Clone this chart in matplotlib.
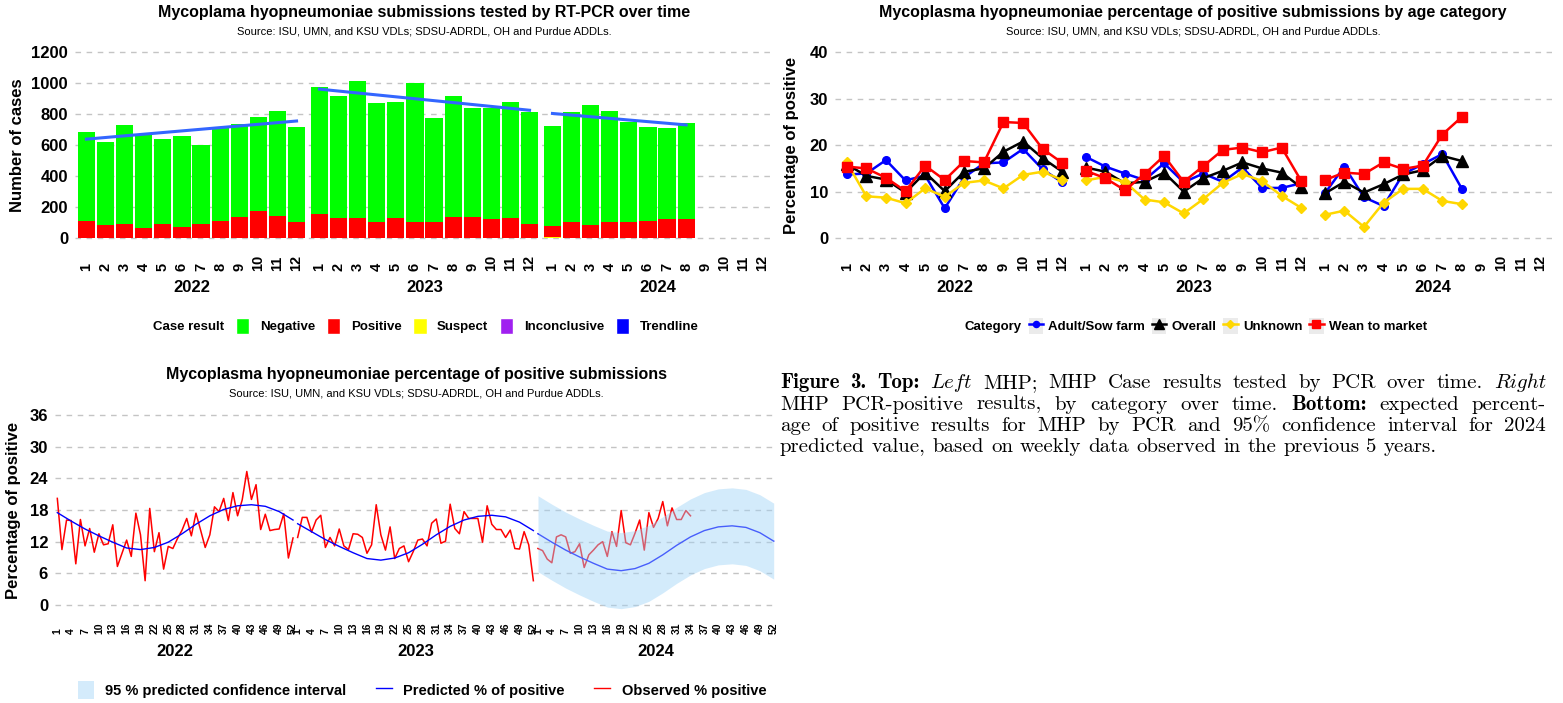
import matplotlib
matplotlib.use("Agg")
import matplotlib.pyplot as plt
import numpy as np
from matplotlib.patches import Patch
from matplotlib.lines import Line2D
from matplotlib.legend_handler import HandlerTuple

plt.rcParams['font.family'] = ['Liberation Sans', 'DejaVu Sans']

years = ['2022', '2023', '2024']

# top left: monthly MHP submissions by case result
neg_2022 = [575, 534, 641, 603, 547, 588, 508, 601, 599, 612, 679, 610]
pos_2022 = [106, 84, 90, 67, 91, 71, 91, 108, 138, 169, 140, 104]
sus_2022 = [0, 0, 0, 0, 0, 0, 0, 0, 0, 0, 0, 0]
inc_2022 = [2, 0, 0, 0, 2, 0, 2, 0, 0, 3, 2, 2]
neg_2023 = [817, 785, 886, 765, 750, 899, 670, 782, 700, 720, 750, 722]
pos_2023 = [154, 131, 127, 106, 127, 101, 106, 138, 136, 123, 127, 93]
sus_2023 = [0, 0, 0, 0, 0, 0, 0, 0, 0, 0, 0, 0]
inc_2023 = [3, 0, 2, 0, 0, 0, 0, 0, 2, 0, 2, 0]
neg_2024 = [648, 706, 774, 720, 644, 610, 586, 621]
pos_2024 = [70, 106, 86, 101, 106, 108, 123, 123]
sus_2024 = [6, 0, 0, 0, 0, 0, 0, 0]
inc_2024 = [2, 0, 0, 2, 0, 0, 0, 0]

# top right: % positive by age category
adult_2022 = [13.7, 13.9, 16.8, 12.4, 13.5, 6.4, 13.1, 16.1, 16.3, 19.2, 14.8, 12.0]
overall_2022 = [15.9, 13.4, 12.6, 9.8, 14.1, 10.1, 14.3, 15.0, 18.6, 20.8, 17.2, 14.3]
unknown_2022 = [16.3, 9.0, 8.7, 7.5, 10.7, 8.9, 11.9, 12.4, 10.7, 13.6, 14.3, 12.5]
wean_2022 = [15.4, 15.0, 13.0, 10.1, 15.6, 12.5, 16.6, 16.3, 25.0, 24.8, 19.2, 16.2]
adult_2023 = [17.5, 15.4, 13.9, 12.5, 16.1, 12.0, 13.9, 12.1, 15.2, 10.8, 10.8, 11.8]
overall_2023 = [15.2, 14.3, 11.8, 12.1, 14.1, 10.0, 12.9, 14.5, 16.3, 15.0, 14.1, 10.9]
unknown_2023 = [12.4, 13.2, 12.1, 8.3, 7.7, 5.3, 8.4, 11.9, 13.8, 12.3, 9.1, 6.5]
wean_2023 = [14.5, 12.9, 10.3, 13.8, 17.7, 12.1, 15.5, 19.0, 19.5, 18.5, 19.5, 12.3]
adult_2024 = [9.6, 15.4, 8.8, 6.9, 13.8, 15.9, 18.1, 10.6]
overall_2024 = [9.6, 12.1, 9.8, 11.6, 13.7, 14.6, 17.7, 16.6]
unknown_2024 = [5.0, 5.9, 2.4, 7.6, 10.6, 10.6, 8.0, 7.3]
wean_2024 = [12.5, 14.1, 13.8, 16.3, 14.9, 15.6, 22.3, 26.1]

# bottom: weekly observed % positive
obs_2022 = [20.2, 10.5, 16.1, 16.0, 7.8, 16.2, 11.2, 14.5, 10.0, 13.5, 11.4, 11.6, 15.2,
            7.3, 9.8, 12.3, 9.2, 17.4, 13.3, 4.6, 18.3, 10.1, 13.7, 6.8, 11.1, 10.7,
            12.6, 14.2, 16.4, 13.1, 17.4, 14.2, 10.9, 13.3, 18.6, 17.7, 20.2, 16.0, 21.3,
            16.9, 19.9, 25.3, 20.0, 22.8, 14.3, 17.2, 14.1, 14.3, 14.4, 17.3, 8.9, 12.7]
obs_2023 = [12.8, 16.6, 16.6, 13.8, 16.1, 17.0, 10.9, 12.8, 11.2, 14.4, 11.2, 10.5, 13.5,
            13.4, 12.8, 9.8, 11.4, 19.0, 13.3, 10.4, 14.8, 8.8, 10.7, 11.2, 8.2, 10.1,
            12.3, 12.5, 11.2, 15.5, 16.3, 11.7, 12.1, 19.1, 14.5, 13.5, 17.7, 16.4, 16.4,
            16.4, 11.9, 18.8, 15.3, 14.3, 14.3, 12.8, 14.2, 10.7, 10.6, 13.9, 11.4, 4.6]
obs_2024 = [10.7, 10.3, 8.7, 8.0, 12.9, 13.3, 12.9, 9.8, 10.1, 11.6, 7.1, 9.5, 10.4,
            11.4, 12.0, 9.2, 13.9, 11.1, 17.9, 11.8, 11.4, 13.6, 16.1, 10.4, 17.5, 14.7,
            16.4, 19.6, 15.0, 18.4, 16.2, 16.2, 17.9, 16.9]

# predicted % positive and 2024 95% interval, read every 3 weeks
pred_weeks = [1, 4, 7, 10, 13, 16, 19, 22, 25, 28, 31, 34, 37, 40, 43, 46, 49, 52]
pred_2022 = [17.5, 15.9, 14.4, 13.1, 11.9, 10.8, 10.5, 10.9, 11.9, 13.5, 15.3, 16.9, 18.1,
             18.8, 19.0, 18.7, 17.7, 16.1]
pred_2023 = [15.4, 13.9, 12.4, 11.1, 9.9, 8.8, 8.5, 8.9, 9.9, 11.5, 13.3, 14.9, 16.1,
             16.8, 17.0, 16.7, 15.7, 14.1]
pred_2024 = [13.5, 11.9, 10.4, 9.1, 7.9, 6.8, 6.5, 6.9, 7.9, 9.5, 11.3, 12.9, 14.1,
             14.8, 15.0, 14.7, 13.7, 12.1]
upper_2024 = [20.7, 19.1, 17.6, 16.3, 15.1, 14.0, 13.7, 14.1, 15.1, 16.7, 18.5, 20.1, 21.3,
              22.0, 22.2, 21.9, 20.9, 19.3]
lower_2024 = [6.3, 4.7, 3.2, 1.9, 0.7, -0.4, -0.7, -0.3, 0.7, 2.3, 4.1, 5.7, 6.9,
              7.6, 7.8, 7.5, 6.5, 4.9]
week_ticks = [1, 4, 7, 10, 13, 16, 19, 22, 25, 28, 31, 34, 37, 40, 43, 46, 49, 52]

source = "Source: ISU, UMN, and KSU VDLs; SDSU-ADRDL, OH and Purdue ADDLs."

# caption words: (text, style) with r = roman, b = bold, i = italic
RM, BF, IT = 'cmr10', 'cmb10', 'cmmi10'
caption = [
    [("Figure", BF), ("3.", BF), ("Top:", BF), ("Left", IT), ("MHP;", RM), ("MHP", RM),
     ("Case", RM), ("results", RM), ("tested", RM), ("by", RM), ("PCR", RM), ("over", RM),
     ("time.", RM), ("Right", IT)],
    [(w, RM) for w in "MHP PCR-positive results, by category over time.".split()] +
    [("Bottom:", BF)] + [(w, RM) for w in "expected percent-".split()],
    [(w, RM) for w in "age of positive results for MHP by PCR and 95% confidence interval for 2024".split()],
    [(w, RM) for w in "predicted value, based on weekly data observed in the previous 5 years.".split()],
]

W, H = 1563, 703
fig = plt.figure(figsize=(W / 100, H / 100), dpi=100)
MSTEP = 12.2   # month offset between year panels
WSTEP = 52     # week offset between year panels


def add_ax(l, t, r, b):
    return fig.add_axes([l / W, 1 - b / H, (r - l) / W, (b - t) / H])


def style(ax, ysize=12):
    for s in ax.spines.values():
        s.set_visible(False)
    ax.yaxis.grid(True, color='#C4C4C4', linestyle=(0, (4, 4)), linewidth=1)
    ax.set_axisbelow(True)
    ax.tick_params(axis='both', length=0)
    ax.tick_params(axis='y', pad=5, labelsize=ysize)
    for lab in ax.get_yticklabels():
        lab.set_fontweight('bold')


def month_axis(ax, lengths):
    xs, labs = [], []
    for yi, n in enumerate(lengths):
        for m in range(12):
            xs.append(yi * MSTEP + m)
            labs.append(str(m + 1))
    ax.set_xticks(xs)
    ax.set_xticklabels(labs, rotation=90, rotation_mode='anchor', ha='left',
                       va='center', fontsize=10.5, fontweight='bold')
    ax.tick_params(axis='x', pad=19)
    ax.set_xlim(-0.6, 2 * MSTEP + 11.6)
    for yi, yr in enumerate(years):
        ax.text(yi * MSTEP + 5.5, -0.21, yr, transform=ax.get_xaxis_transform(),
                ha='center', va='center', fontsize=12, fontweight='bold')


# ---------------- top left ----------------
ax1 = add_ax(75, 45, 774, 245)
cols = {'Negative': '#00FF00', 'Positive': '#FF0000', 'Suspect': '#FFFF00',
        'Inconclusive': '#A020F0'}
stacks = [(neg_2022, pos_2022, sus_2022, inc_2022),
          (neg_2023, pos_2023, sus_2023, inc_2023),
          (neg_2024, pos_2024, sus_2024, inc_2024)]
for yi, (neg, pos, sus, inc) in enumerate(stacks):
    x = yi * MSTEP + np.arange(len(neg))
    bottom = np.zeros(len(neg))
    for vals, key in [(inc, 'Inconclusive'), (sus, 'Suspect'), (pos, 'Positive'),
                      (neg, 'Negative')]:
        ax1.bar(x, vals, bottom=bottom, width=0.9, color=cols[key], linewidth=0)
        bottom = bottom + np.array(vals)
    k = np.polyfit(np.arange(len(neg)), bottom, 1)
    ax1.plot(x, np.polyval(k, np.arange(len(neg))), color='#3366FF', lw=2.2)
ax1.set_ylim(-45, 1247)
ax1.set_yticks(range(0, 1201, 200))
style(ax1)
month_axis(ax1, [12, 12, 8])
ax1.set_ylabel('Number of cases', fontsize=12, fontweight='bold')
ax1.yaxis.set_label_coords(-0.072, 0.5)
fig.text(424 / W, 1 - 13 / H, 'Mycoplama hyopneumoniae submissions tested by RT-PCR over time',
         ha='center', va='center', fontsize=11.5, fontweight='bold')
fig.text(424 / W, 1 - 32 / H, source, ha='center', va='center', fontsize=8)

h1 = [Patch(alpha=0)] + [Patch(facecolor=c, edgecolor='white') for c in cols.values()]
h1.append(Patch(facecolor='#0000FF', edgecolor='white'))
fig.legend(h1, ['Case result'] + list(cols.keys()) + ['Trendline'], ncol=6,
           loc='center', bbox_to_anchor=(414 / W, 1 - 326 / H), frameon=False,
           prop=dict(weight='bold', size=9.5), handlelength=1.0, handleheight=1.4,
           handletextpad=0.8, columnspacing=0.9)

# ---------------- top right ----------------
ax2 = add_ax(835, 45, 1552, 245)
series = [
    ('Adult/Sow farm', [adult_2022, adult_2023, adult_2024], '#0000FF', 'o', 5.5),
    ('Overall', [overall_2022, overall_2023, overall_2024], 'black', '^', 9),
    ('Unknown', [unknown_2022, unknown_2023, unknown_2024], '#FFD700', 'D', 5.5),
    ('Wean to market', [wean_2022, wean_2023, wean_2024], '#FF0000', 's', 7.5),
]
h2 = [Patch(alpha=0)]
for name, vals, c, mk, ms in series:
    for yi, v in enumerate(vals):
        x = yi * MSTEP + np.arange(len(v))
        ax2.plot(x, v, color=c, lw=1.8, marker=mk, ms=ms)
    h2.append((Patch(facecolor='#EBEBEB', edgecolor='none'),
               Line2D([], [], color=c, lw=1.8, marker=mk, ms=ms * 0.8)))
ax2.set_ylim(-1.5, 41.6)
ax2.set_yticks(range(0, 41, 10))
style(ax2)
month_axis(ax2, [12, 12, 8])
ax2.set_ylabel('Percentage of positive', fontsize=12, fontweight='bold')
ax2.yaxis.set_label_coords(-0.05, 0.5)
fig.text(1193 / W, 1 - 13 / H, 'Mycoplasma hyopneumoniae percentage of positive submissions by age category',
         ha='center', va='center', fontsize=11.5, fontweight='bold')
fig.text(1193 / W, 1 - 32 / H, source, ha='center', va='center', fontsize=8)
fig.legend(h2, ['Category'] + [s[0] for s in series], ncol=5,
           handler_map={tuple: HandlerTuple(ndivide=1)},
           loc='center', bbox_to_anchor=(1186 / W, 1 - 326 / H), frameon=False,
           prop=dict(weight='bold', size=9.5), handlelength=1.1, handleheight=1.4,
           handletextpad=0.4, columnspacing=0.5)

# ---------------- bottom ----------------
ax3 = add_ax(55, 410, 776, 610)
obs = [obs_2022, obs_2023, obs_2024]
pred = [pred_2022, pred_2023, pred_2024]
for yi in range(3):
    wx = yi * WSTEP + np.arange(1, len(obs[yi]) + 1)
    ax3.plot(wx, obs[yi], color='#FF0000', lw=1.1, zorder=2)
    ax3.plot(yi * WSTEP + np.array(pred_weeks), pred[yi], color='#0000FF', lw=1.0, zorder=2)
ax3.fill_between(2 * WSTEP + np.array(pred_weeks), lower_2024, upper_2024,
                 color='#9FD3F7', alpha=0.45, linewidth=0, zorder=3)
ax3.set_xlim(0.5, 3 * WSTEP + 0.5)
ax3.set_ylim(-0.95, 36.95)
ax3.set_yticks(range(0, 37, 6))
style(ax3)
xs = [yi * WSTEP + w for yi in range(3) for w in week_ticks]
ax3.set_xticks(xs)
ax3.set_xticklabels([str(w) for yi in range(3) for w in week_ticks], rotation=90,
                    rotation_mode='anchor', ha='left', va='center', fontsize=7.5,
                    fontweight='bold')
ax3.tick_params(axis='x', pad=17)
for yi, yr in enumerate(years):
    ax3.text(yi * WSTEP + 26.5, -0.205, yr, transform=ax3.get_xaxis_transform(),
             ha='center', va='center', fontsize=12, fontweight='bold')
ax3.set_ylabel('Percentage of positive', fontsize=12, fontweight='bold')
ax3.yaxis.set_label_coords(-0.0475, 0.5)
fig.text(416 / W, 1 - 375 / H, 'Mycoplasma hyopneumoniae percentage of positive submissions',
         ha='center', va='center', fontsize=11.5, fontweight='bold')
fig.text(416 / W, 1 - 394 / H, source, ha='center', va='center', fontsize=8)
h3 = [Patch(facecolor='#D4EBFB', edgecolor='none'),
      Line2D([], [], color='#0000FF', lw=1),
      Line2D([], [], color='#FF0000', lw=1)]
fig.legend(h3, ['95 % predicted confidence interval', 'Predicted % of positive',
                'Observed % positive'], ncol=3, loc='center',
           bbox_to_anchor=(422 / W, 1 - 690 / H), frameon=False,
           prop=dict(weight='bold', size=10.5), handlelength=1.1, handleheight=1.5,
           handletextpad=0.8, columnspacing=2.0)

# ---------------- caption (justified, word by word) ----------------
CAP_FS = 15
renderer = fig.canvas.get_renderer()


def word_width(s, fam):
    t = fig.text(0, 0, s, family=fam, fontsize=CAP_FS)
    w = t.get_window_extent(renderer=renderer).width
    t.remove()
    return w


space = word_width('x x', RM) - 2 * word_width('x', RM)
left, right = 780, 1546
for i, words in enumerate(caption):
    widths = [word_width(w, f) for w, f in words]
    if i < len(caption) - 1:
        gap = (right - left - sum(widths)) / (len(words) - 1)
    else:
        gap = space
    x = left
    for (w, f), ww in zip(words, widths):
        fig.text(x / W, 1 - (388 + i * 21.5) / H, w, family=f, fontsize=CAP_FS,
                 ha='left', va='baseline')
        x += ww + gap

fig.savefig('out.png', dpi=100, facecolor='white')
